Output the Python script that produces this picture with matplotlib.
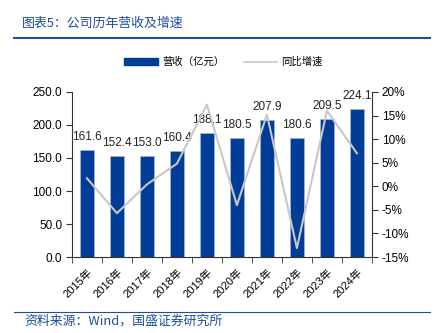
import matplotlib
matplotlib.use("Agg")
from matplotlib import pyplot as plt
from matplotlib.lines import Line2D
from matplotlib.patches import Patch
from matplotlib.ticker import FuncFormatter, FixedLocator

plt.rcParams['font.family'] = ['Liberation Sans', 'Noto Sans CJK SC']

years = ["2015年", "2016年", "2017年", "2018年", "2019年",
         "2020年", "2021年", "2022年", "2023年", "2024年"]
revenue = [161.6, 152.4, 153.0, 160.4, 188.1, 180.5, 207.9, 180.6, 209.5, 224.1]
growth = [1.7, -5.7, 0.4, 4.8, 17.3, -4.0, 15.2, -13.1, 16.0, 7.0]

bar_color = "#003d96"
line_color = "#c8c8c8"
title_color = "#1f4e9a"

fig = plt.figure(figsize=(4.36, 3.33), dpi=100)
ax = fig.add_axes([0.165, 0.228, 0.688, 0.496])
ax2 = ax.twinx()

x = range(len(years))
ax.bar(x, revenue, width=0.45, color=bar_color, edgecolor="#9fb4d8", linewidth=0.6, zorder=2)
for i, v in enumerate(revenue):
    ax.annotate(f"{v:.1f}", (i, v), xytext=(0, 5), textcoords="offset points",
                ha="center", va="bottom", fontsize=8.5, color="#222222")

ax2.plot(x, growth, color=line_color, linewidth=1.5, zorder=3)

ax.set_xlim(-0.5, len(years) - 0.5)
ax.set_ylim(0, 250)
ax.set_yticks(range(0, 251, 50))
ax.yaxis.set_major_formatter(FuncFormatter(lambda v, p: f"{v:.1f}"))
ax2.set_ylim(-15, 20)
ax2.set_yticks(range(-15, 21, 5))
ax2.yaxis.set_major_formatter(FuncFormatter(lambda v, p: f"{v:.0f}%"))

ax.set_xticks(list(x))
ax.set_xticklabels(years, rotation=45, ha="right", rotation_mode="anchor", fontsize=8)
ax.xaxis.set_minor_locator(FixedLocator([i - 0.5 for i in range(len(years) + 1)]))
ax.tick_params(axis="x", which="major", length=0, pad=7)
ax.tick_params(axis="x", which="minor", length=4, direction="out", color="#333333")
ax.tick_params(axis="y", length=4, labelsize=8.5, color="#333333", pad=3)
ax2.tick_params(axis="y", length=4, labelsize=8.5, color="#333333", pad=3)

for a in (ax, ax2):
    a.spines["top"].set_visible(False)
for s in ("left", "right", "bottom"):
    ax2.spines[s].set_color("#333333")
    ax.spines[s].set_color("#333333")
ax.spines["right"].set_visible(False)
ax2.spines["left"].set_visible(False)
ax2.spines["bottom"].set_visible(False)

handles = [Patch(facecolor=bar_color, edgecolor=bar_color),
           Line2D([], [], color=line_color, linewidth=1.2)]
fig.legend(handles, ["营收（亿元）", "同比增速"], loc="center", bbox_to_anchor=(0.513, 0.814),
           ncol=2, frameon=False, fontsize=7.5, handlelength=3.2, handleheight=0.6,
           handletextpad=0.4, columnspacing=1.9)

# header and footer
fig.text(0.05, 0.93, "图表5：公司历年营收及增速", fontsize=9.3, color=title_color,
         style="italic", va="center", family=['Noto Sans CJK SC', 'DejaVu Sans'])
fig.add_artist(Line2D([0.032, 0.986], [0.887, 0.887], color="#1f4e9a", linewidth=1.5))
fig.add_artist(Line2D([0.032, 0.986], [0.063, 0.063], color="#1f4e9a", linewidth=0.8))
fig.text(0.055, 0.035, "资料来源：Wind，国盛证券研究所", fontsize=9.3, color=title_color,
         style="italic", va="center", family=['Noto Sans CJK SC', 'DejaVu Sans'])

fig.savefig("out.png", dpi=100)
